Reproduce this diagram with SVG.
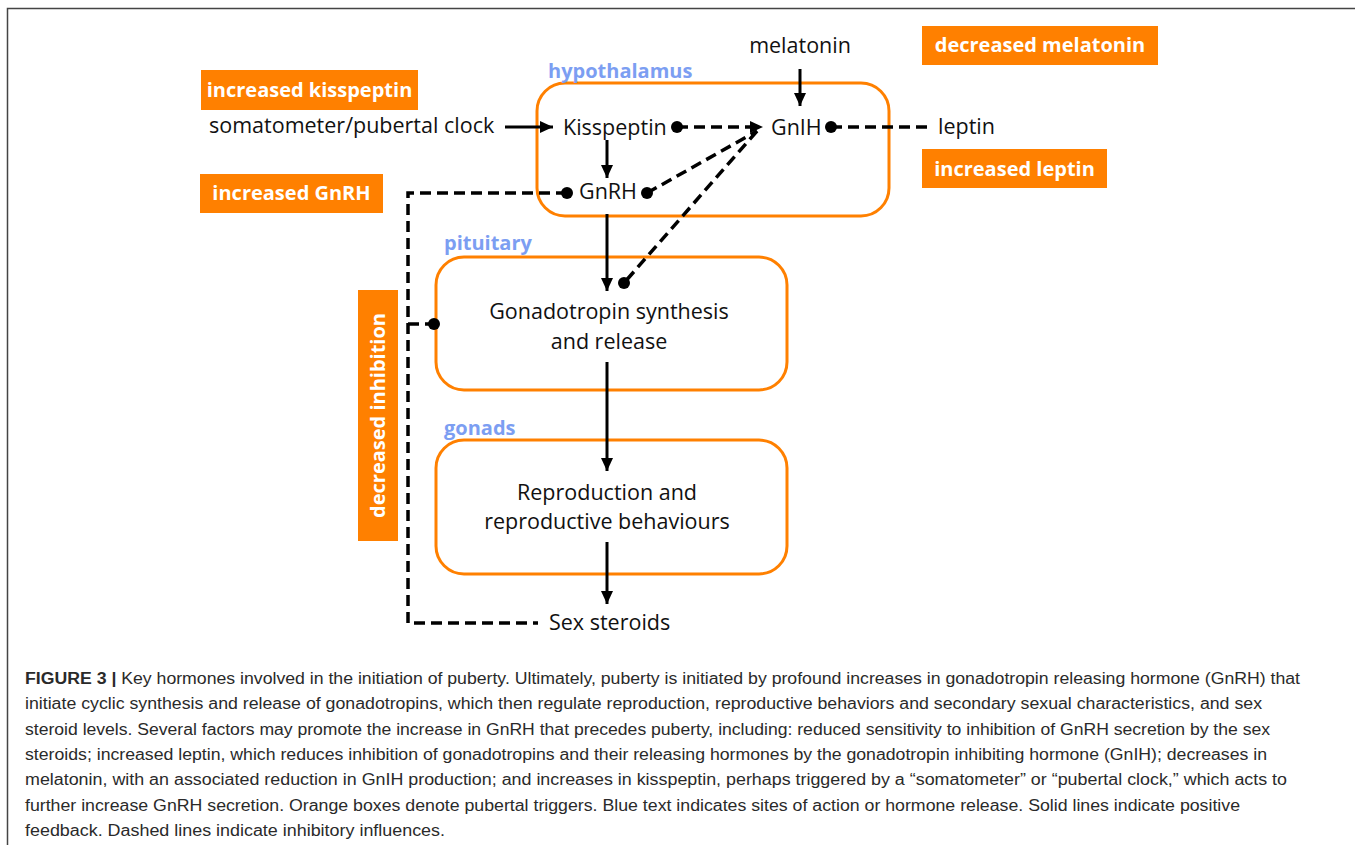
<svg xmlns="http://www.w3.org/2000/svg" width="1355" height="845" viewBox="0 0 1355 845">
<style>
.lbl{font-family:"Open Sans","Noto Sans",sans-serif;font-size:21.5px;fill:#111}
.trig{fill:#FF8000}
.trigt{font-family:"Open Sans","Noto Sans",sans-serif;font-size:20px;font-weight:bold;fill:#fff}
.site{font-family:"Open Sans","Noto Sans",sans-serif;font-size:20px;font-weight:bold;fill:#7C9EF2}
.box{fill:#fff;stroke:#FF8000;stroke-width:3}
.pos{stroke:#000;stroke-width:3;fill:none;marker-end:url(#ah)}
.neg{stroke:#000;stroke-width:3.5;fill:none;stroke-dasharray:11 6}
.dot{fill:#000}
.cap{font-family:"Liberation Sans",Arial,sans-serif;font-size:16px;fill:#2a2a2a}
</style>
<defs>
<marker id="ah" markerWidth="14" markerHeight="14" refX="13" refY="7" orient="auto" markerUnits="userSpaceOnUse">
<path d="M0,1 L13,7 L0,13 Z" fill="#000"/>
</marker>
</defs>
<rect width="1355" height="845" fill="#fff"/>
<path d="M7.5,845 V8.5 H1355" stroke="#444" stroke-width="1.5" fill="none"/>

<g id="hypothalamus">
<rect class="box" x="537" y="83" width="352" height="133" rx="28"/>
<text class="site" x="548" y="78">hypothalamus</text>
</g>
<g id="pituitary">
<rect class="box" x="436" y="257" width="351" height="133" rx="28"/>
<text class="site" x="444" y="250">pituitary</text>
<text class="lbl" x="609" y="319" text-anchor="middle">Gonadotropin synthesis</text>
<text class="lbl" x="609" y="349" text-anchor="middle">and release</text>
</g>
<g id="gonads">
<rect class="box" x="436" y="440" width="351" height="134" rx="28"/>
<text class="site" x="444" y="435">gonads</text>
<text class="lbl" x="607" y="500" text-anchor="middle">Reproduction and</text>
<text class="lbl" x="607" y="529" text-anchor="middle">reproductive behaviours</text>
</g>
<g id="kisspeptin"><text class="lbl" x="563" y="135">Kisspeptin</text></g>
<g id="gnih"><text class="lbl" x="771" y="135">GnIH</text></g>
<g id="gnrh"><text class="lbl" x="579" y="199">GnRH</text></g>
<g id="melatonin"><text class="lbl" x="800" y="53" text-anchor="middle">melatonin</text></g>
<g id="leptin"><text class="lbl" x="938" y="134">leptin</text></g>
<g id="somatometer"><text class="lbl" x="209" y="133">somatometer/pubertal clock</text></g>
<g id="sex-steroids"><text class="lbl" x="549" y="630">Sex steroids</text></g>

<g id="trig-kisspeptin"><rect class="trig" x="201" y="70" width="217" height="40"/><text class="trigt" x="309.5" y="97" text-anchor="middle">increased kisspeptin</text></g>
<g id="trig-gnrh"><rect class="trig" x="200" y="174" width="183" height="39"/><text class="trigt" x="291.5" y="200" text-anchor="middle">increased GnRH</text></g>
<g id="trig-melatonin"><rect class="trig" x="922" y="26" width="236" height="39"/><text class="trigt" x="1040" y="52" text-anchor="middle">decreased melatonin</text></g>
<g id="trig-leptin"><rect class="trig" x="922" y="149" width="185" height="39"/><text class="trigt" x="1014.5" y="176" text-anchor="middle">increased leptin</text></g>
<g id="trig-inhibition"><rect class="trig" x="358" y="290" width="40" height="251"/><text class="trigt" transform="translate(385,415.5) rotate(-90)" text-anchor="middle">decreased inhibition</text></g>

<g id="connectors">
<line class="pos" x1="505" y1="127" x2="553" y2="127"/>
<line class="pos" x1="800" y1="69" x2="800" y2="106"/>
<line class="pos" x1="607" y1="140" x2="607" y2="178"/>
<line class="pos" x1="607" y1="214" x2="607" y2="291"/>
<line class="pos" x1="607" y1="362" x2="607" y2="471"/>
<line class="pos" x1="607" y1="542" x2="607" y2="604"/>
<line class="neg" x1="677" y1="127" x2="752" y2="127"/>
<path d="M750,121 L763,127 L750,133 Z" fill="#000"/>
<line class="neg" x1="831" y1="127" x2="929" y2="127"/>
<line class="neg" x1="647" y1="193" x2="757" y2="131"/>
<line class="neg" x1="757" y1="131" x2="624" y2="283"/>
<path class="neg" d="M567,193 H408 V623 H538"/>
<line class="neg" x1="408" y1="324" x2="434" y2="324"/>
<circle class="dot" cx="677" cy="127" r="6"/>
<circle class="dot" cx="831" cy="127" r="6"/>
<circle class="dot" cx="567" cy="193" r="6"/>
<circle class="dot" cx="647" cy="193" r="6"/>
<circle class="dot" cx="624" cy="283" r="6"/>
<circle class="dot" cx="434" cy="324" r="6"/>
</g>

<g id="caption">
<text class="cap" x="25" y="684" textLength="1275" lengthAdjust="spacingAndGlyphs"><tspan font-weight="bold">FIGURE 3 |</tspan> Key hormones involved in the initiation of puberty. Ultimately, puberty is initiated by profound increases in gonadotropin releasing hormone (GnRH) that</text>
<text class="cap" x="25" y="709" textLength="1237" lengthAdjust="spacingAndGlyphs">initiate cyclic synthesis and release of gonadotropins, which then regulate reproduction, reproductive behaviors and secondary sexual characteristics, and sex</text>
<text class="cap" x="25" y="735" textLength="1245" lengthAdjust="spacingAndGlyphs">steroid levels. Several factors may promote the increase in GnRH that precedes puberty, including: reduced sensitivity to inhibition of GnRH secretion by the sex</text>
<text class="cap" x="25" y="760" textLength="1242" lengthAdjust="spacingAndGlyphs">steroids; increased leptin, which reduces inhibition of gonadotropins and their releasing hormones by the gonadotropin inhibiting hormone (GnIH); decreases in</text>
<text class="cap" x="25" y="785" textLength="1262" lengthAdjust="spacingAndGlyphs">melatonin, with an associated reduction in GnIH production; and increases in kisspeptin, perhaps triggered by a “somatometer” or “pubertal clock,” which acts to</text>
<text class="cap" x="25" y="811" textLength="1215" lengthAdjust="spacingAndGlyphs">further increase GnRH secretion. Orange boxes denote pubertal triggers. Blue text indicates sites of action or hormone release. Solid lines indicate positive</text>
<text class="cap" x="25" y="836" textLength="420" lengthAdjust="spacingAndGlyphs">feedback. Dashed lines indicate inhibitory influences.</text>
</g>
</svg>
